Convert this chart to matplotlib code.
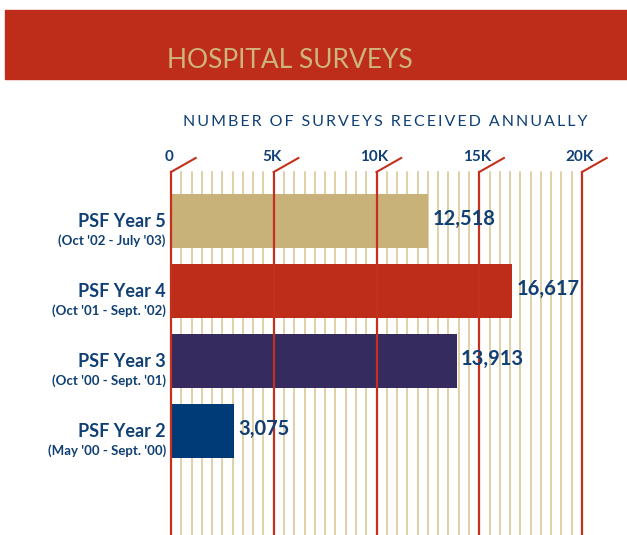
import matplotlib
matplotlib.use("Agg")
from matplotlib import pyplot as plt
from matplotlib.patches import Rectangle

years = ["PSF Year 5", "PSF Year 4", "PSF Year 3", "PSF Year 2"]
periods = ["(Oct '02 - July '03)", "(Oct '01 - Sept. '02)",
           "(Oct '00 - Sept. '01)", "(May '00 - Sept. '00)"]
surveys = [12518, 16617, 13913, 3075]
colors = ["#C9B27A", "#BE2D1A", "#352B5F", "#003B78"]
major = [0, 5000, 10000, 15000, 20000]
major_labels = ["0", "5K", "10K", "15K", "20K"]

navy = "#0F3F74"
red = "#C4301C"
tan = "#D9C48E"

fig = plt.figure(figsize=(6.27, 5.35), dpi=100)

# banner
fig.patches.append(Rectangle((5 / 627, (535 - 79) / 535), 1, 69 / 535,
                             transform=fig.transFigure, color="#BE2D1A", zorder=0))
fig.text(290 / 627, (535 - 60) / 535, "HOSPITAL SURVEYS", color="#CDB57D",
         fontsize=19, family="Lato", ha="center", va="center")
subtitle = "NUMBER OF SURVEYS RECEIVED ANNUALLY"
spaced = "\u2009".join(subtitle).replace("\u2009 \u2009", "\u2002")
fig.text(385 / 627, (535 - 122) / 535, spaced,
         color=navy, fontsize=11.5, family="Lato", ha="center", va="center")

ax = fig.add_axes([171 / 627, 0, 411 / 627, (535 - 145) / 535])
ytop = 3 + (221 - 145) / 70
ybot = -(535 - 431) / 70
line_top = 3 + (221 - 172) / 70
ax.set_xlim(0, 20000)
ax.set_ylim(ybot, ytop)
ax.axis("off")

# minor grid every 500
for x in range(500, 20000, 500):
    if x % 5000:
        ax.plot([x, x], [ybot, line_top], color=tan, lw=1.1, zorder=1)
for x, lab in zip(major, major_labels):
    ax.plot([x, x], [ybot, line_top], color=red, lw=1.6, zorder=3, clip_on=False)
    ax.plot([x, x + 1200], [line_top, line_top + 0.2], color=red, lw=1.5,
            zorder=3, clip_on=False)
    ax.text(x - 100, 3 + (221 - 157) / 70, lab, color=navy, fontsize=11,
            fontweight="bold", family="Lato", ha="center", va="center")

pos = [3, 2, 1, 0]
ax.barh(pos, surveys, height=54 / 70, color=colors, zorder=2)
for p, v, yr, per in zip(pos, surveys, years, periods):
    ax.text(v + 200, p + 0.03, f"{v:,}", color=navy, fontsize=14.5,
            fontweight="bold", family="Lato", ha="left", va="center")
    ax.text(-250, p - 0.01, yr, color=navy, fontsize=13, fontweight="bold",
            family="Lato", ha="right", va="center", clip_on=False)
    ax.text(-250, p - 0.28, per, color=navy, fontsize=9.5, fontweight="bold",
            family="Lato", ha="right", va="center", clip_on=False)

fig.savefig("out.png", dpi=100)
